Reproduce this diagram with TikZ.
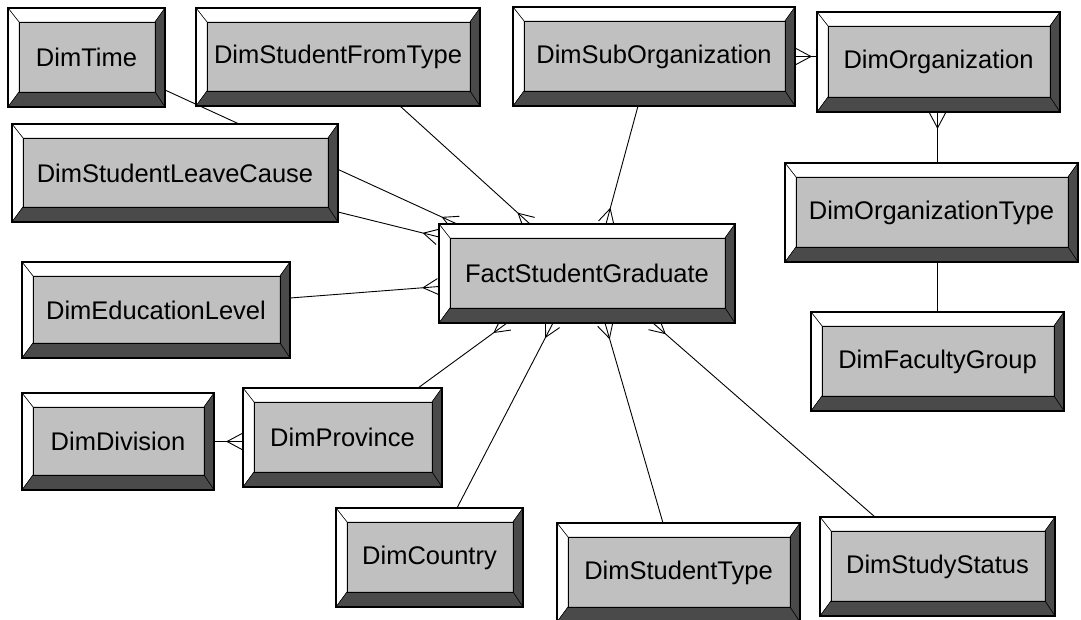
\documentclass[tikz,border=0pt]{standalone}
\usepackage{fontspec}
\setmainfont{Liberation Sans}
\usetikzlibrary{calc,decorations.markings}
\pgfdeclarelayer{back}
\pgfdeclarelayer{bg}
\pgfsetlayers{back,bg,main}
\definecolor{face}{RGB}{192,192,192}
\definecolor{darkbev}{RGB}{74,74,74}
\tikzset{
  entity/.style={rectangle, draw=black, line width=1.3pt, fill=face, inner sep=0pt, outer sep=0pt,
    font=\fontsize{25.5}{30}\selectfont, text=black,
    path picture={
      \def\pb{path picture bounding box}
      \filldraw[fill=white, draw=black, line width=0.5pt]
        (\pb.north west) -- (\pb.north east) -- ([shift={(-10pt,-14pt)}]\pb.north east)
        -- ([shift={(11pt,-14pt)}]\pb.north west) -- cycle;
      \filldraw[fill=white, draw=black, line width=0.5pt]
        (\pb.north west) -- ([shift={(11pt,-14pt)}]\pb.north west)
        -- ([shift={(11pt,15pt)}]\pb.south west) -- (\pb.south west) -- cycle;
      \filldraw[fill=darkbev, draw=black, line width=0.5pt]
        (\pb.north east) -- (\pb.south east) -- ([shift={(-10pt,15pt)}]\pb.south east)
        -- ([shift={(-10pt,-14pt)}]\pb.north east) -- cycle;
      \filldraw[fill=darkbev, draw=black, line width=0.5pt]
        (\pb.south west) -- ([shift={(11pt,15pt)}]\pb.south west)
        -- ([shift={(-10pt,15pt)}]\pb.south east) -- (\pb.south east) -- cycle;
      \draw[black, line width=0.9pt] ([shift={(11pt,-14pt)}]\pb.north west) rectangle ([shift={(-10pt,15pt)}]\pb.south east);
    }},
  conn/.style={draw=black, line width=0.9pt},
  crowend/.style={postaction={decorate}, decoration={markings,
      mark=at position 1 with {\draw[black, line width=0.9pt] (-16pt,0pt) -- (-1pt,8pt) (-16pt,0pt) -- (-1pt,-8pt);}}},
  crowstart/.style={postaction={decorate}, decoration={markings,
      mark=at position 0 with {\draw[black, line width=0.9pt] (16pt,0pt) -- (1pt,8pt) (16pt,0pt) -- (1pt,-8pt);}}}
}
\newcommand\entbox[6]{%
  \node[entity, minimum width={#4-#2}, minimum height={#5-#3}] (#1) at ({(#2+#4)/2},{(#3+#5)/2}) {#6};}
\begin{document}
\begin{tikzpicture}[x=1pt,y=-1pt]
\begin{pgfonlayer}{back}
\fill[white] (0,0) rectangle (1081,619);
\end{pgfonlayer}
\useasboundingbox (0,0) rectangle (1081,619);
\entbox{DimTime}{8}{8}{165}{107}{DimTime}
\entbox{DimStudentFromType}{196}{8}{480}{106}{DimStudentFromType}
\entbox{DimSubOrganization}{513}{7}{795}{106}{DimSubOrganization}
\entbox{DimOrganization}{817}{12}{1060}{112}{DimOrganization}
\entbox{DimStudentLeaveCause}{12}{124}{338}{222}{DimStudentLeaveCause}
\entbox{DimOrganizationType}{785}{163}{1078}{262}{DimOrganizationType}
\entbox{Fact}{439}{224}{735}{323}{FactStudentGraduate}
\entbox{DimEducationLevel}{22}{262}{290}{358}{DimEducationLevel}
\entbox{DimFacultyGroup}{811}{312}{1064}{411}{DimFacultyGroup}
\entbox{DimDivision}{22}{393}{214}{490}{DimDivision}
\entbox{DimProvince}{243}{388}{442}{487}{DimProvince}
\entbox{DimCountry}{336}{508}{523}{607}{DimCountry}
\entbox{DimStudentType}{557}{523}{800}{622}{DimStudentType}
\entbox{DimStudyStatus}{820}{517}{1055}{616}{DimStudyStatus}
\begin{pgfonlayer}{bg}
\draw[conn, crowend] ($(DimTime.south east)+(0,-17)$) -- ($(Fact.north west)+(18,0)$);
\draw[conn, crowend] ($(DimStudentLeaveCause.south east)+(0,-10)$) -- ($(Fact.north west)+(0,13)$);
\draw[conn, crowend] ($(DimEducationLevel.east)+(0,-12)$) -- ($(Fact.west)+(0,13)$);
\draw[conn, crowend] ($(DimStudentFromType.south west)+(204,0)$) -- ($(Fact.north west)+(91,0)$);
\draw[conn, crowend] ($(DimSubOrganization.south west)+(125,0)$) -- ($(Fact.north west)+(167,0)$);
\draw[conn, crowstart] (DimSubOrganization.east) -- (DimOrganization.west |- DimSubOrganization.east);
\draw[conn, line width=1.6pt, crowstart] (DimOrganization.south -| DimFacultyGroup.north) -- (DimOrganizationType.north -| DimFacultyGroup.north);
\draw[conn] (DimOrganizationType.south -| DimFacultyGroup.north) -- (DimFacultyGroup.north);
\draw[conn, crowend] (DimDivision.east) -- (DimProvince.west |- DimDivision.east);
\draw[conn, crowend] ($(DimProvince.north west)+(175,0)$) -- ($(Fact.south west)+(68,0)$);
\draw[conn, crowend] ($(DimCountry.north west)+(121,0)$) -- ($(Fact.south west)+(114,0)$);
\draw[conn, crowend] ($(DimStudentType.north west)+(106,0)$) -- ($(Fact.south west)+(166,0)$);
\draw[conn, crowend] ($(DimStudyStatus.north west)+(55,0)$) -- ($(Fact.south west)+(214,0)$);
\end{pgfonlayer}
\end{tikzpicture}
\end{document}
